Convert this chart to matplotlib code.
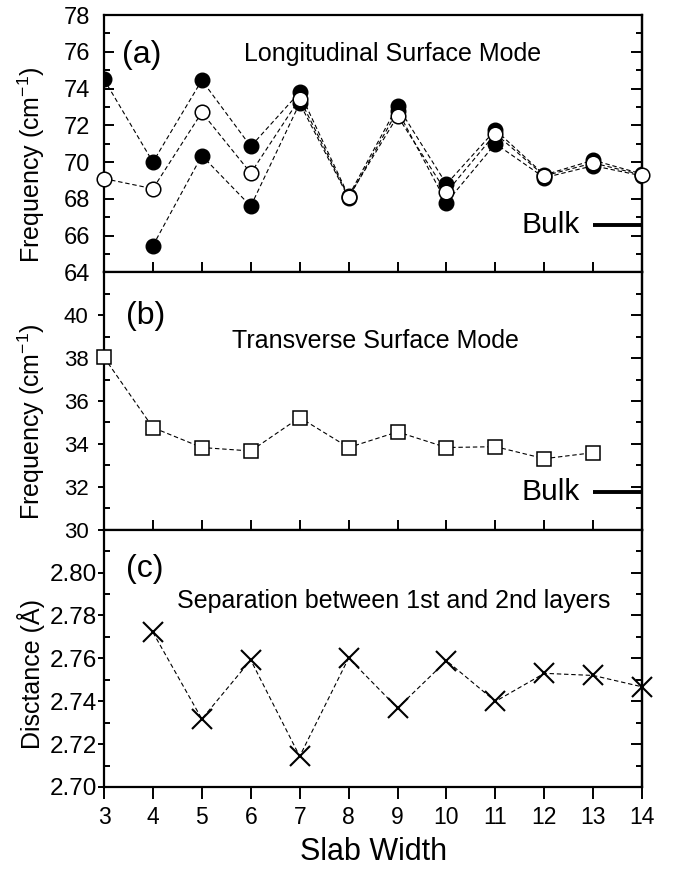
import numpy as np
import matplotlib
matplotlib.use("Agg")
import matplotlib.pyplot as plt
from matplotlib.ticker import MultipleLocator, FormatStrFormatter, NullFormatter

plt.rcParams['font.family'] = ['Liberation Sans', 'DejaVu Sans']
plt.rcParams['mathtext.default'] = 'regular'

# slab widths
slab = [3, 4, 5, 6, 7, 8, 9, 10, 11, 12, 13, 14]

# (a) longitudinal surface mode, cm^-1
long_filled_upper = [74.5, 70.0, 74.45, 70.85, 73.8, 68.15, 73.05, 68.8, 71.75, 69.3, 70.1, 69.35]
slab_lower = [4, 5, 6, 7, 8, 9, 10, 11, 12, 13, 14]
long_filled_lower = [65.45, 70.35, 67.6, 73.2, 68.05, 72.8, 67.8, 71.0, 69.15, 69.8, 69.25]
long_open = [69.1, 68.55, 72.7, 69.4, 73.45, 68.1, 72.5, 68.35, 71.55, 69.25, 69.95, 69.3]
long_bulk = 66.55

# (b) transverse surface mode, cm^-1
slab_trans = [3, 4, 5, 6, 7, 8, 9, 10, 11, 12, 13]
trans = [38.04, 34.76, 33.83, 33.67, 35.23, 33.83, 34.56, 33.83, 33.87, 33.31, 33.59]
trans_bulk = 31.77

# (c) separation between 1st and 2nd layers, Angstrom
slab_sep = [4, 5, 6, 7, 8, 9, 10, 11, 12, 13, 14]
sep = [2.7721, 2.7317, 2.7592, 2.7143, 2.7601, 2.7368, 2.7589, 2.7399, 2.7530, 2.7520, 2.7467]

dash = (0, (4, 2.5))

fig, axs = plt.subplots(3, 1, sharex=True, figsize=(6.81, 8.69), dpi=100)
fig.subplots_adjust(left=0.1527, right=0.943, top=0.9827, bottom=0.0944, hspace=0)
ax1, ax2, ax3 = axs

def style_axis(ax, major, minor, ylim, labsize, pad, left_major_dir='out', left_major_len=4):
    ax.set_xlim(3, 14)
    ax.set_ylim(*ylim)
    ax.xaxis.set_major_locator(MultipleLocator(1))
    ax.yaxis.set_major_locator(MultipleLocator(major))
    ax.yaxis.set_minor_locator(MultipleLocator(minor))
    for s in ax.spines.values():
        s.set_linewidth(1.6)
    ax.tick_params(axis='y', which='major', direction=left_major_dir, length=left_major_len, width=1.4,
                   labelsize=labsize, pad=pad, right=False)
    ax.tick_params(axis='y', which='minor', direction='in', length=4, width=1.4, right=False)
    sec = ax.secondary_yaxis('right')
    sec.yaxis.set_major_locator(MultipleLocator(major))
    sec.yaxis.set_minor_locator(MultipleLocator(minor))
    sec.yaxis.set_major_formatter(NullFormatter())
    sec.tick_params(which='major', direction='in', length=8, width=1.4)
    sec.tick_params(which='minor', direction='in', length=4, width=1.4)
    sec.spines['right'].set_linewidth(1.6)

style_axis(ax1, 2, 1, (64, 78), 17, 10, left_major_dir='in', left_major_len=7.5)
style_axis(ax2, 2, 1, (30, 42), 16, 7)
style_axis(ax3, 0.02, 0.01, (2.70, 2.82), 17.5, 1)
ax1.set_yticks(np.arange(64, 79, 2))
ax2.set_yticks(np.arange(30, 41, 2))
ax3.set_yticks(np.arange(2.70, 2.805, 0.02))
ax3.yaxis.set_major_formatter(FormatStrFormatter('%.2f'))

for ax in (ax1, ax2):
    ax.tick_params(axis='x', which='major', direction='inout', length=14, width=1.4,
                   labelbottom=False, top=False)
ax3.tick_params(axis='x', which='major', direction='out', length=8.5, width=1.4,
                labelsize=16.5, pad=5, top=False)

# (a)
ax1.plot(slab, long_filled_upper, linestyle=dash, color='black', lw=0.8,
         marker='o', ms=10.5, mfc='black', mec='black', mew=1.0, zorder=3)
ax1.plot(slab_lower, long_filled_lower, linestyle=dash, color='black', lw=0.8,
         marker='o', ms=10.5, mfc='black', mec='black', mew=1.0, zorder=3)
ax1.plot(slab, long_open, linestyle=dash, color='black', lw=0.8,
         marker='o', ms=10.5, mfc='white', mec='black', mew=1.1, zorder=4, clip_on=False)
ax1.plot([13, 14], [long_bulk, long_bulk], color='black', lw=2.8, solid_capstyle='butt')
ax1.text(12.72, long_bulk, 'Bulk', fontsize=21.5, ha='right', va='center')
ax1.text(0.07, 0.845, '(a)', transform=ax1.transAxes, fontsize=23, ha='center', va='center')
ax1.text(0.537, 0.849, 'Longitudinal Surface Mode', transform=ax1.transAxes,
         fontsize=18, ha='center', va='center')

# (b)
ax2.plot(slab_trans, trans, linestyle=dash, color='black', lw=0.8,
         marker='s', ms=10.5, mfc='white', mec='black', mew=1.1, zorder=3, clip_on=False)
ax2.plot([13, 14], [trans_bulk, trans_bulk], color='black', lw=2.8, solid_capstyle='butt')
ax2.text(12.72, trans_bulk, 'Bulk', fontsize=21.5, ha='right', va='center')
ax2.text(0.078, 0.829, '(b)', transform=ax2.transAxes, fontsize=23, ha='center', va='center')
ax2.text(0.505, 0.733, 'Transverse Surface Mode', transform=ax2.transAxes,
         fontsize=18, ha='center', va='center')

# (c)
ax3.plot(slab_sep, sep, linestyle=dash, color='black', lw=0.8,
         marker='x', ms=14, mec='black', mew=1.5, zorder=3, clip_on=False)
ax3.text(0.076, 0.846, '(c)', transform=ax3.transAxes, fontsize=23, ha='center', va='center')
ax3.text(0.539, 0.721, 'Separation between 1st and 2nd layers', transform=ax3.transAxes,
         fontsize=18, ha='center', va='center')

ax1.set_ylabel('Frequency (cm$^{-1}$)', fontsize=18)
ax2.set_ylabel('Frequency (cm$^{-1}$)', fontsize=18)
ax3.set_ylabel('Disctance (Å)', fontsize=18)
for ax, yc in ((ax1, 0.42), (ax2, 0.42), (ax3, 0.44)):
    ax.yaxis.set_label_coords(-0.135, yc)
    ax.yaxis.label.set_va('center')
ax3.set_xlabel('Slab Width', fontsize=22, labelpad=6)

fig.savefig('out.png', dpi=100)
